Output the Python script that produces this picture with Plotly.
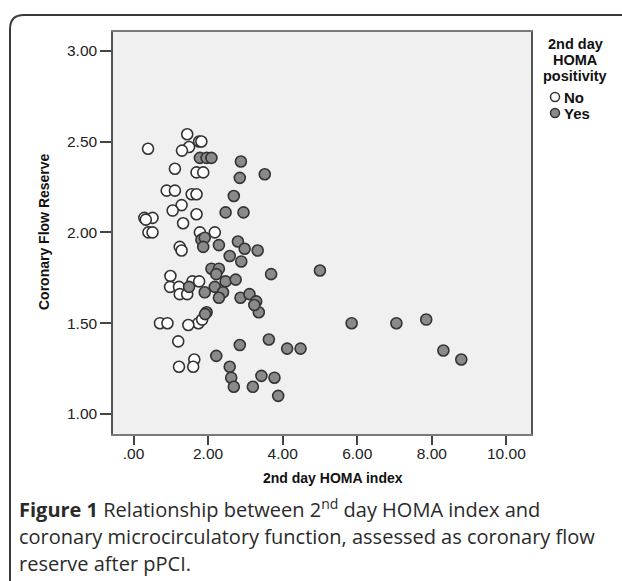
import plotly.graph_objects as go

# ---- data ----
no_x = [0.39, 1.44, 1.76, 1.82, 1.49, 1.30, 1.11, 1.69, 1.87, 0.89, 1.11, 1.56, 1.69,
        1.29, 1.05, 1.69, 0.29, 0.51, 0.33, 1.33, 0.40, 0.51, 1.78, 2.18, 1.24, 1.29,
        0.99, 0.98, 1.22, 1.58, 1.76, 1.24, 1.44, 1.74, 1.84, 0.71, 0.91, 1.47, 1.20,
        1.63, 1.60, 1.22]
no_y = [2.46, 2.54, 2.50, 2.50, 2.47, 2.45, 2.35, 2.33, 2.33, 2.23, 2.23, 2.21, 2.21,
        2.15, 2.12, 2.10, 2.08, 2.08, 2.07, 2.05, 2.00, 2.00, 2.00, 2.00, 1.92, 1.90,
        1.76, 1.70, 1.70, 1.73, 1.73, 1.66, 1.66, 1.50, 1.52, 1.50, 1.50, 1.49, 1.40,
        1.30, 1.26, 1.26]

yes_x = [1.78, 1.96, 2.09, 2.88, 2.85, 3.52, 2.69, 2.47, 2.95, 1.82, 1.91, 1.87, 2.29,
         2.80, 2.98, 3.33, 2.58, 2.89, 2.09, 2.29, 2.22, 3.69, 5.00, 1.49, 1.91, 2.18,
         2.40, 2.47, 2.74, 2.29, 2.87, 3.11, 3.29, 3.36, 3.24, 1.96, 1.92, 3.63, 2.85,
         4.12, 4.48, 2.22, 2.58, 2.62, 2.69, 3.20, 3.43, 3.78, 3.88, 5.85, 7.05, 7.85,
         8.31, 8.79]
yes_y = [2.41, 2.41, 2.41, 2.39, 2.30, 2.32, 2.20, 2.11, 2.11, 1.96, 1.97, 1.92, 1.93,
         1.95, 1.91, 1.90, 1.87, 1.84, 1.80, 1.80, 1.77, 1.77, 1.79, 1.70, 1.67, 1.70,
         1.67, 1.73, 1.74, 1.64, 1.64, 1.66, 1.62, 1.56, 1.60, 1.56, 1.55, 1.41, 1.38,
         1.36, 1.36, 1.32, 1.26, 1.20, 1.15, 1.15, 1.21, 1.20, 1.10, 1.50, 1.50, 1.52,
         1.35, 1.30]

x_tickvals = [0, 2, 4, 6, 8, 10]
x_ticktext = [".00", "2.00", "4.00", "6.00", "8.00", "10.00"]
y_tickvals = [1.0, 1.5, 2.0, 2.5, 3.0]
y_ticktext = ["1.00", "1.50", "2.00", "2.50", "3.00"]

legend_title = ["2nd day", "HOMA", "positivity"]
legend_names = ["No", "Yes"]

AX_FONT = "Liberation Sans, Arial, sans-serif"
CAP_FONT = "Open Sans, sans-serif"
OPEN_FILL, YES_FILL, EDGE = "white", "#8a8a8a", "#333333"

fig = go.Figure()
fig.add_trace(go.Scatter(
    x=no_x, y=no_y, mode="markers", name=legend_names[0], showlegend=False,
    marker=dict(size=11, color=OPEN_FILL, line=dict(color=EDGE, width=1.6)),
))
fig.add_trace(go.Scatter(
    x=yes_x, y=yes_y, mode="markers", name=legend_names[1], showlegend=False,
    marker=dict(size=11, color=YES_FILL, line=dict(color=EDGE, width=1.6)),
))

W, H = 622, 581
L, T = 113, 32
RIGHT, BOTTOM = 531, 434
R, B = W - RIGHT, H - BOTTOM


def px(x):
    return (x - L) / (RIGHT - L)


def py(y):
    return (BOTTOM - y) / (BOTTOM - T)


fig.update_layout(
    width=W, height=H,
    margin=dict(l=L, r=R, t=T, b=B, pad=0),
    paper_bgcolor="white",
    plot_bgcolor="#f0f0f0",
    showlegend=False,
    xaxis=dict(
        range=[-0.55, 10.66], tickvals=x_tickvals, ticktext=x_ticktext,
        showgrid=False, zeroline=False,
        showline=True, linecolor="#7a7a7a", linewidth=1.5, mirror=True,
        ticks="outside", ticklen=9, tickwidth=1.5, tickcolor="#444",
        ticklabelstandoff=-4,
        tickfont=dict(family=AX_FONT, size=15.5, color="#222"),
    ),
    yaxis=dict(
        range=[0.89, 3.103], tickvals=y_tickvals, ticktext=y_ticktext,
        showgrid=False, zeroline=False,
        showline=True, linecolor="#555", linewidth=1.5, mirror=True,
        ticks="outside", ticklen=11, tickwidth=1.5, tickcolor="#444",
        tickfont=dict(family=AX_FONT, size=15.5, color="#222"),
    ),
)

# axis titles
fig.add_annotation(text="<b>2nd day HOMA index</b>", xref="paper", yref="paper",
                   x=px(333), y=py(478), xanchor="center", yanchor="middle",
                   showarrow=False, font=dict(family=AX_FONT, size=14, color="#111"))
fig.add_annotation(text="<b>Coronary Flow Reserve</b>", xref="paper", yref="paper",
                   x=px(44), y=py(232), xanchor="center", yanchor="middle", textangle=-90,
                   showarrow=False, font=dict(family=AX_FONT, size=14, color="#111"))

# legend (title + two entries)
for txt, yy in zip(legend_title, [44, 60, 76]):
    fig.add_annotation(text=f"<b>{txt}</b>", xref="paper", yref="paper",
                       x=px(575), y=py(yy), xanchor="center", yanchor="middle",
                       showarrow=False, font=dict(family=AX_FONT, size=14.5, color="#111"))
for name, fill, yy in zip(legend_names, [OPEN_FILL, YES_FILL], [97, 113]):
    fig.add_shape(type="circle", xref="paper", yref="paper",
                  xsizemode="pixel", ysizemode="pixel",
                  xanchor=px(555), yanchor=py(yy), x0=-4.5, x1=4.5, y0=-4.5, y1=4.5,
                  fillcolor=fill, line=dict(color=EDGE, width=1.5))
    fig.add_annotation(text=f"<b>{name}</b>", xref="paper", yref="paper",
                       x=px(562), y=py(yy), xanchor="left", yanchor="middle",
                       showarrow=False, font=dict(family=AX_FONT, size=15, color="#111"))

# caption
caption = [
    "<b>Figure 1</b> Relationship between 2<sup>nd</sup> day HOMA index and",
    "coronary microcirculatory function, assessed as coronary flow",
    "reserve after pPCI.",
]
for line, yy in zip(caption, [508, 536, 563]):
    fig.add_annotation(text=line, xref="paper", yref="paper",
                       x=px(17), y=py(yy), xanchor="left", yanchor="middle",
                       showarrow=False, font=dict(family=CAP_FONT, size=20, color="#2a2a2a"))

# outer rounded frame (top-left corner)
x0, y0, r = 10, 15, 14
path = (f"M {px(x0)} {py(600)} L {px(x0)} {py(y0 + r)} "
        f"Q {px(x0)} {py(y0)} {px(x0 + r)} {py(y0)} L {px(640)} {py(y0)}")
fig.add_shape(type="path", xref="paper", yref="paper", path=path,
              line=dict(color="#3a3a3a", width=2))

fig.write_html("out.html", config={"displayModeBar": False},
               post_script="document.body.style.margin='0';document.body.style.overflow='hidden';")
